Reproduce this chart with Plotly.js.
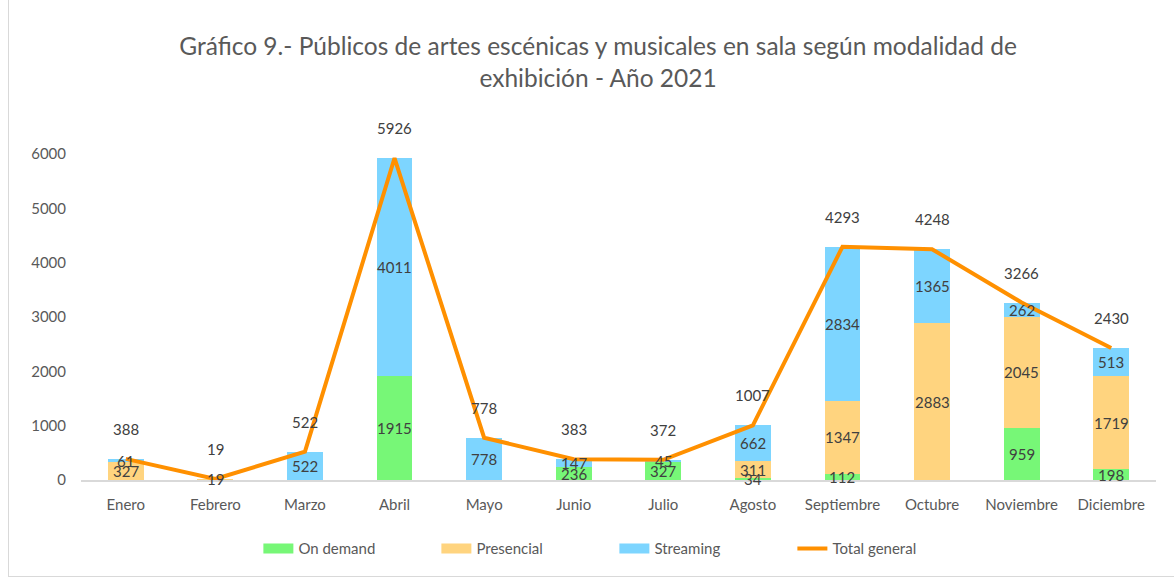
<!DOCTYPE html>
<html>
<head>
<meta charset="utf-8">
<script src="https://cdn.plot.ly/plotly-3.0.1.min.js"></script>
<style>
  html, body { margin: 0; padding: 0; background: #fff; }
  #wrap { position: relative; width: 1174px; height: 579px; overflow: hidden; }
  #chart { position: absolute; left: 0; top: 0; width: 1174px; height: 579px; }
  #frame { position: absolute; left: 8px; top: -5px; width: 1200px; height: 581px;
           border-left: 1px solid #d9d9d9; border-bottom: 1px solid #d9d9d9; pointer-events: none; }
</style>
</head>
<body>
<div id="wrap">
  <div id="chart"></div>
  <div id="frame"></div>
</div>
<script>
const months = ["Enero","Febrero","Marzo","Abril","Mayo","Junio","Julio","Agosto","Septiembre","Octubre","Noviembre","Diciembre"];
const onDemand   = [null, null, null, 1915, null, 236, 327, 34, 112, null, 959, 198];
const presencial = [327, 19, null, null, null, null, null, 311, 1347, 2883, 2045, 1719];
const streaming  = [61, null, 522, 4011, 778, 147, 45, 662, 2834, 1365, 262, 513];
const totalGeneral = [388, 19, 522, 5926, 778, 383, 372, 1007, 4293, 4248, 3266, 2430];

const seriesNames  = ["On demand", "Presencial", "Streaming"];
const seriesValues = [onDemand, presencial, streaming];
const seriesColors = ["#77F777", "#FFD47F", "#7DD5FF"];
const lineColor = "#FF9000";

const fontFam = "Lato, 'Open Sans', sans-serif";
const labelFont = {family: fontFam, size: 15, color: "#404040"};

const traces = [];
seriesValues.forEach((vals, k) => {
  traces.push({
    type: "bar", name: seriesNames[k], x: months, y: vals,
    marker: {color: seriesColors[k]}, width: 0.4,
    showlegend: false, hoverinfo: "skip"
  });
});
traces.push({
  type: "scatter", mode: "lines", name: "Total general",
  x: months, y: totalGeneral,
  line: {color: lineColor, width: 4},
  cliponaxis: false, showlegend: false, hoverinfo: "skip"
});
// legend entries (wide swatches like the original)
seriesValues.forEach((vals, k) => {
  traces.push({
    type: "scatter", mode: "lines", name: seriesNames[k],
    x: [months[0]], y: [null],
    line: {color: seriesColors[k], width: 11}, showlegend: true, hoverinfo: "skip"
  });
});
traces.push({
  type: "scatter", mode: "lines", name: "Total general",
  x: [months[0]], y: [null],
  line: {color: lineColor, width: 4}, showlegend: true, hoverinfo: "skip"
});

const annotations = [];
months.forEach((m, i) => {
  let base = 0;
  seriesValues.forEach(vals => {
    const v = vals[i];
    if (v !== null && v !== undefined) {
      annotations.push({
        x: m, y: base + v / 2, xref: "x", yref: "y",
        text: String(v), showarrow: false, font: labelFont
      });
      base += v;
    }
  });
  annotations.push({
    x: m, y: totalGeneral[i], xref: "x", yref: "y",
    text: String(totalGeneral[i]), showarrow: false,
    yshift: 30, font: labelFont
  });
});

const layout = {
  width: 1174, height: 579,
  margin: {l: 81, r: 18, t: 154, b: 99},
  paper_bgcolor: "rgba(0,0,0,0)",
  plot_bgcolor: "rgba(0,0,0,0)",
  barmode: "stack",
  showlegend: true,
  hovermode: false,
  font: {family: fontFam, color: "#595959", size: 15},
  title: {
    text: "Gráfico 9.- Públicos de artes escénicas y musicales en sala según modalidad de<br>exhibición - Año 2021",
    font: {family: fontFam, size: 24.5, color: "#595959"},
    x: 0.481, xanchor: "center", xref: "paper",
    y: 0.905, yanchor: "middle"
  },
  xaxis: {
    type: "category",
    showgrid: false, showline: true, linecolor: "#d9d9d9", linewidth: 1.5,
    ticks: "", tickfont: {size: 15, color: "#595959"},
    ticklabelstandoff: 10,
    fixedrange: true
  },
  yaxis: {
    range: [0, 6000], tickvals: [0,1000,2000,3000,4000,5000,6000],
    showgrid: false, zeroline: false, showline: false,
    ticks: "", tickfont: {size: 15, color: "#595959"},
    ticklabelstandoff: 14,
    fixedrange: true
  },
  legend: {
    orientation: "h", x: 0.165, xanchor: "left", y: -0.211, yanchor: "middle",
    font: {size: 15, color: "#595959"},
    entrywidth: 133, entrywidthmode: "pixels",
    traceorder: "normal"
  },
  annotations: annotations
};

Plotly.newPlot("chart", traces, layout, {displayModeBar: false, staticPlot: true});
</script>
</body>
</html>
